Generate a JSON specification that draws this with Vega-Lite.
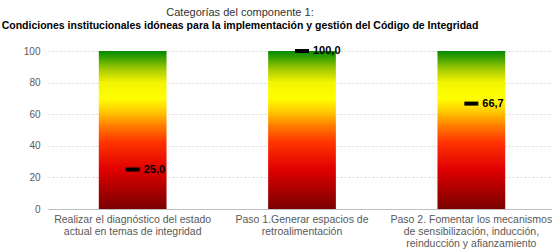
{
  "$schema": "https://vega.github.io/schema/vega-lite/v6.json",
  "width": 508,
  "height": 158,
  "autosize": {"type": "none"},
  "padding": {"left": 48, "top": 51, "right": 0, "bottom": 41},
  "background": "white",
  "config": {
    "font": "Liberation Sans",
    "view": {"stroke": null}
  },
  "title": {
    "text": "Categorías del componente 1:",
    "subtitle": "Condiciones institucionales idóneas para la implementación y gestión del Código de Integridad",
    "anchor": "middle",
    "frame": "group",
    "dx": -62,
    "offset": 14,
    "fontSize": 11,
    "fontWeight": "normal",
    "color": "#333333",
    "subtitleFontSize": 10.5,
    "subtitleFontWeight": "bold",
    "subtitleColor": "#000000",
    "subtitlePadding": 3,
    "font": "Liberation Sans",
    "subtitleFont": "Liberation Sans"
  },
  "data": {
    "values": [
      {"cat": "Realizar el diagnóstico del estado|actual en temas de integridad", "max": 100, "score": 25.0, "label": "25,0"},
      {"cat": "Paso 1.Generar espacios de|retroalimentación", "max": 100, "score": 100.0, "label": "100,0"},
      {"cat": "Paso 2. Fomentar los mecanismos|de sensibilización, inducción,|reinducción y afianzamiento", "max": 100, "score": 66.7, "label": "66,7"}
    ]
  },
  "resolve": {"axis": {"y": "independent"}},
  "encoding": {
    "x": {
      "field": "cat",
      "type": "nominal",
      "sort": null,
      "scale": {"paddingInner": 0.6, "paddingOuter": 0.3},
      "axis": {
        "title": null,
        "labelAngle": 0,
        "labelExpr": "split(datum.label, '|')",
        "labelFontSize": 10.5,
        "labelColor": "#595959",
        "labelPadding": 5,
        "labelLineHeight": 12,
        "ticks": false,
        "domainColor": "#bfbfbf",
        "labelLimit": 300
      }
    }
  },
  "layer": [
    {
      "mark": {
        "type": "bar",
        "color": {
          "gradient": "linear",
          "x1": 0, "y1": 1, "x2": 0, "y2": 0,
          "stops": [
            {"offset": 0, "color": "#7a0000"},
            {"offset": 0.25, "color": "#e00000"},
            {"offset": 0.42, "color": "#ff3300"},
            {"offset": 0.52, "color": "#ff7700"},
            {"offset": 0.62, "color": "#ffcc00"},
            {"offset": 0.7, "color": "#ffff00"},
            {"offset": 0.8, "color": "#f4f400"},
            {"offset": 0.88, "color": "#a8cc00"},
            {"offset": 1, "color": "#008a00"}
          ]
        }
      },
      "encoding": {
        "y": {
          "field": "max",
          "type": "quantitative",
          "scale": {"domain": [0, 100]},
          "axis": {
            "title": null,
            "values": [0, 20, 40, 60, 80, 100],
            "labelOverlap": false,
            "labelFontSize": 10,
            "labelColor": "#595959",
            "labelPadding": 3,
            "tickColor": "transparent",
            "domainColor": "transparent",
            "gridColor": "#d9d9d9",
            "gridDash": [2, 2]
          }
        }
      }
    },
    {
      "mark": {"type": "tick", "color": "#000000", "thickness": 4, "size": 14, "opacity": 1},
      "encoding": {
        "y": {"field": "score", "type": "quantitative", "axis": null}
      }
    },
    {
      "mark": {"type": "text", "align": "left", "baseline": "middle", "dx": 11, "fontWeight": "bold", "fontSize": 11, "color": "#000000"},
      "encoding": {
        "y": {"field": "score", "type": "quantitative", "axis": null},
        "text": {"field": "label", "type": "nominal"}
      }
    }
  ]
}
